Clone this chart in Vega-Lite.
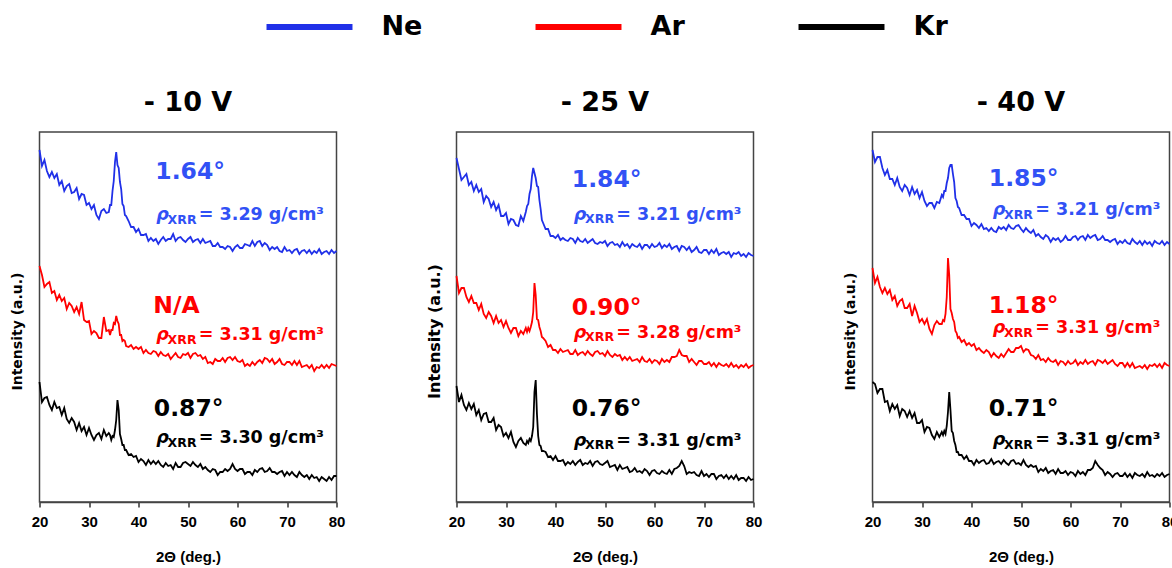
{
"$schema":"https://vega.github.io/schema/vega-lite/v6.json",
"padding":{"left":9.5,"top":13,"right":2,"bottom":2},
"background":"white",
"datasets":{
"p1":[
{"x":20,"Ne":352,"Ar":236,"Kr":120},{"x":20.5,"Ne":336,"Ar":227,"Kr":100},{"x":21,"Ne":342,"Ar":215,"Kr":104},{"x":21.5,"Ne":331,"Ar":218,"Kr":105},{"x":22,"Ne":325,"Ar":220,"Kr":97},{"x":22.5,"Ne":330,"Ar":209,"Kr":92},{"x":23,"Ne":324,"Ar":211,"Kr":100},{"x":23.5,"Ne":328,"Ar":202,"Kr":94},{"x":24,"Ne":317,"Ar":207,"Kr":95},{"x":24.5,"Ne":321,"Ar":201,"Kr":87},{"x":25,"Ne":311,"Ar":204,"Kr":94},{"x":25.5,"Ne":316,"Ar":193,"Kr":83},{"x":26,"Ne":318,"Ar":199,"Kr":79},{"x":26.5,"Ne":309,"Ar":196,"Kr":84},{"x":27,"Ne":310,"Ar":190,"Kr":80},{"x":27.5,"Ne":314,"Ar":195,"Kr":72},{"x":28,"Ne":303,"Ar":188,"Kr":79},{"x":28.5,"Ne":308,"Ar":200,"Kr":71},{"x":29,"Ne":307,"Ar":182,"Kr":75},{"x":29.5,"Ne":297,"Ar":180,"Kr":67},{"x":30,"Ne":299,"Ar":181,"Kr":74},{"x":30.5,"Ne":293,"Ar":168,"Kr":67},{"x":31,"Ne":297,"Ar":171,"Kr":62},{"x":31.5,"Ne":287,"Ar":169,"Kr":67},{"x":32,"Ne":283,"Ar":164,"Kr":69},{"x":32.5,"Ne":291,"Ar":164,"Kr":63},{"x":33,"Ne":293,"Ar":185,"Kr":72},{"x":33.5,"Ne":289,"Ar":171,"Kr":66},{"x":34,"Ne":290,"Ar":172,"Kr":69},
{"x":34.25,"Ne":297,"Ar":167,"Kr":67},{"x":34.5,"Ne":297,"Ar":172,"Kr":62},{"x":34.75,"Ne":311,"Ar":172,"Kr":66},{"x":35,"Ne":321,"Ar":179,"Kr":65},{"x":35.25,"Ne":340,"Ar":178,"Kr":72},{"x":35.5,"Ne":350,"Ar":186,"Kr":82},{"x":35.75,"Ne":337,"Ar":181,"Kr":102},{"x":36,"Ne":334,"Ar":178,"Kr":92},{"x":36.25,"Ne":320,"Ar":167,"Kr":68},{"x":36.5,"Ne":313,"Ar":167,"Kr":63},{"x":36.75,"Ne":298,"Ar":161,"Kr":57},{"x":37,"Ne":296,"Ar":162,"Kr":57},{"x":37.25,"Ne":287,"Ar":161,"Kr":52},{"x":37.5,"Ne":286,"Ar":156,"Kr":52},
{"x":38,"Ne":281,"Ar":155,"Kr":47},{"x":38.5,"Ne":275,"Ar":157,"Kr":48},{"x":39,"Ne":275,"Ar":153,"Kr":45},{"x":39.5,"Ne":270,"Ar":155,"Kr":46},{"x":40,"Ne":273,"Ar":153,"Kr":40},{"x":40.5,"Ne":267,"Ar":155,"Kr":43},{"x":41,"Ne":267,"Ar":149,"Kr":41},{"x":41.5,"Ne":268,"Ar":152,"Kr":37},{"x":42,"Ne":261,"Ar":149,"Kr":42},{"x":42.5,"Ne":264,"Ar":148,"Kr":38},{"x":43,"Ne":261,"Ar":151,"Kr":41},{"x":43.5,"Ne":263,"Ar":150,"Kr":38},{"x":44,"Ne":258,"Ar":146,"Kr":41},{"x":44.5,"Ne":262,"Ar":150,"Kr":37},{"x":45,"Ne":265,"Ar":147,"Kr":35},{"x":45.5,"Ne":261,"Ar":146,"Kr":39},{"x":46,"Ne":263,"Ar":148,"Kr":36},{"x":46.5,"Ne":263,"Ar":143,"Kr":37},{"x":47,"Ne":268,"Ar":146,"Kr":33},{"x":47.5,"Ne":261,"Ar":149,"Kr":39},{"x":48,"Ne":264,"Ar":145,"Kr":35},{"x":48.5,"Ne":265,"Ar":144,"Kr":35},{"x":49,"Ne":262,"Ar":148,"Kr":39},{"x":49.5,"Ne":260,"Ar":147,"Kr":40},{"x":50,"Ne":263,"Ar":149,"Kr":38},{"x":50.5,"Ne":265,"Ar":144,"Kr":36},{"x":51,"Ne":260,"Ar":148,"Kr":40},{"x":51.5,"Ne":262,"Ar":149,"Kr":37},{"x":52,"Ne":263,"Ar":146,"Kr":35},{"x":52.5,"Ne":259,"Ar":147,"Kr":38},{"x":53,"Ne":263,"Ar":143,"Kr":33},{"x":53.5,"Ne":259,"Ar":145,"Kr":35},{"x":54,"Ne":260,"Ar":139,"Kr":32},{"x":54.5,"Ne":261,"Ar":140,"Kr":30},{"x":55,"Ne":256,"Ar":138,"Kr":33},{"x":55.5,"Ne":256,"Ar":143,"Kr":32},{"x":56,"Ne":259,"Ar":141,"Kr":27},{"x":56.5,"Ne":255,"Ar":141,"Kr":30},{"x":57,"Ne":255,"Ar":144,"Kr":30},{"x":57.5,"Ne":253,"Ar":140,"Kr":33},{"x":58,"Ne":256,"Ar":144,"Kr":31},{"x":58.5,"Ne":255,"Ar":145,"Kr":33},{"x":59,"Ne":251,"Ar":142,"Kr":38},{"x":59.5,"Ne":255,"Ar":145,"Kr":33},{"x":60,"Ne":257,"Ar":141,"Kr":31},{"x":60.5,"Ne":254,"Ar":140,"Kr":33},{"x":61,"Ne":254,"Ar":142,"Kr":33},{"x":61.5,"Ne":258,"Ar":136,"Kr":28},{"x":62,"Ne":257,"Ar":138,"Kr":30},{"x":62.5,"Ne":256,"Ar":136,"Kr":30},{"x":63,"Ne":261,"Ar":140,"Kr":27},{"x":63.5,"Ne":256,"Ar":137,"Kr":32},{"x":64,"Ne":260,"Ar":140,"Kr":30},{"x":64.5,"Ne":261,"Ar":142,"Kr":33},{"x":65,"Ne":256,"Ar":139,"Kr":34},{"x":65.5,"Ne":259,"Ar":144,"Kr":30},{"x":66,"Ne":257,"Ar":143,"Kr":31},{"x":66.5,"Ne":252,"Ar":140,"Kr":34},{"x":67,"Ne":255,"Ar":143,"Kr":30},{"x":67.5,"Ne":253,"Ar":138,"Kr":30},{"x":68,"Ne":255,"Ar":140,"Kr":28},{"x":68.5,"Ne":251,"Ar":143,"Kr":30},{"x":69,"Ne":250,"Ar":138,"Kr":31},{"x":69.5,"Ne":255,"Ar":137,"Kr":26},{"x":70,"Ne":251,"Ar":140,"Kr":30},{"x":70.5,"Ne":252,"Ar":140,"Kr":27},{"x":71,"Ne":249,"Ar":137,"Kr":30},{"x":71.5,"Ne":252,"Ar":141,"Kr":27},{"x":72,"Ne":253,"Ar":137,"Kr":25},{"x":72.5,"Ne":248,"Ar":141,"Kr":30},{"x":73,"Ne":251,"Ar":135,"Kr":27},{"x":73.5,"Ne":252,"Ar":136,"Kr":25},{"x":74,"Ne":249,"Ar":137,"Kr":27},{"x":74.5,"Ne":252,"Ar":134,"Kr":23},{"x":75,"Ne":248,"Ar":137,"Kr":27},{"x":75.5,"Ne":251,"Ar":131,"Kr":24},{"x":76,"Ne":249,"Ar":135,"Kr":25},{"x":76.5,"Ne":253,"Ar":134,"Kr":21},{"x":77,"Ne":248,"Ar":137,"Kr":25},{"x":77.5,"Ne":250,"Ar":134,"Kr":23},{"x":78,"Ne":251,"Ar":137,"Kr":21},{"x":78.5,"Ne":248,"Ar":134,"Kr":25},{"x":79,"Ne":252,"Ar":138,"Kr":22},{"x":79.5,"Ne":249,"Ar":137,"Kr":26},{"x":80,"Ne":251,"Ar":136,"Kr":26}
],
"p2":[
{"x":20,"Ne":344,"Ar":226,"Kr":116},{"x":20.5,"Ne":333,"Ar":209,"Kr":100},{"x":21,"Ne":322,"Ar":214,"Kr":107},{"x":21.5,"Ne":325,"Ar":214,"Kr":97},{"x":22,"Ne":328,"Ar":205,"Kr":92},{"x":22.5,"Ne":317,"Ar":200,"Kr":99},{"x":23,"Ne":320,"Ar":206,"Kr":93},{"x":23.5,"Ne":311,"Ar":199,"Kr":98},{"x":24,"Ne":317,"Ar":199,"Kr":87},{"x":24.5,"Ne":310,"Ar":192,"Kr":92},{"x":25,"Ne":313,"Ar":198,"Kr":82},{"x":25.5,"Ne":300,"Ar":188,"Kr":88},{"x":26,"Ne":306,"Ar":184,"Kr":89},{"x":26.5,"Ne":303,"Ar":190,"Kr":80},{"x":27,"Ne":295,"Ar":186,"Kr":80},{"x":27.5,"Ne":300,"Ar":179,"Kr":84},{"x":28,"Ne":292,"Ar":186,"Kr":72},{"x":28.5,"Ne":297,"Ar":179,"Kr":77},{"x":29,"Ne":286,"Ar":182,"Kr":75},{"x":29.5,"Ne":286,"Ar":175,"Kr":66},{"x":30,"Ne":289,"Ar":181,"Kr":69},{"x":30.5,"Ne":278,"Ar":174,"Kr":64},{"x":31,"Ne":283,"Ar":169,"Kr":70},{"x":31.5,"Ne":282,"Ar":174,"Kr":60},{"x":32,"Ne":277,"Ar":174,"Kr":55},{"x":32.5,"Ne":276,"Ar":166,"Kr":61},{"x":33,"Ne":286,"Ar":171,"Kr":64},{"x":33.5,"Ne":281,"Ar":168,"Kr":59},{"x":34,"Ne":290,"Ar":174,"Kr":57},
{"x":34.25,"Ne":296,"Ar":170,"Kr":61},{"x":34.5,"Ne":298,"Ar":174,"Kr":59},{"x":34.75,"Ne":308,"Ar":171,"Kr":63},{"x":35,"Ne":313,"Ar":175,"Kr":61},{"x":35.25,"Ne":326,"Ar":180,"Kr":66},{"x":35.5,"Ne":334,"Ar":190,"Kr":75},{"x":35.75,"Ne":329,"Ar":219,"Kr":110},{"x":36,"Ne":324,"Ar":207,"Kr":122},{"x":36.25,"Ne":316,"Ar":183,"Kr":88},{"x":36.5,"Ne":315,"Ar":182,"Kr":66},{"x":36.75,"Ne":302,"Ar":175,"Kr":57},{"x":37,"Ne":293,"Ar":171,"Kr":56},{"x":37.25,"Ne":282,"Ar":165,"Kr":51},{"x":37.5,"Ne":279,"Ar":164,"Kr":51},
{"x":38,"Ne":273,"Ar":161,"Kr":50},{"x":38.5,"Ne":273,"Ar":155,"Kr":45},{"x":39,"Ne":266,"Ar":157,"Kr":46},{"x":39.5,"Ne":266,"Ar":152,"Kr":42},{"x":40,"Ne":264,"Ar":152,"Kr":46},{"x":40.5,"Ne":267,"Ar":149,"Kr":41},{"x":41,"Ne":262,"Ar":153,"Kr":41},{"x":41.5,"Ne":264,"Ar":150,"Kr":42},{"x":42,"Ne":262,"Ar":151,"Kr":37},{"x":42.5,"Ne":261,"Ar":152,"Kr":40},{"x":43,"Ne":264,"Ar":148,"Kr":38},{"x":43.5,"Ne":263,"Ar":148,"Kr":41},{"x":44,"Ne":259,"Ar":152,"Kr":37},{"x":44.5,"Ne":264,"Ar":147,"Kr":40},{"x":45,"Ne":261,"Ar":149,"Kr":42},{"x":45.5,"Ne":260,"Ar":150,"Kr":37},{"x":46,"Ne":263,"Ar":147,"Kr":39},{"x":46.5,"Ne":259,"Ar":151,"Kr":38},{"x":47,"Ne":261,"Ar":148,"Kr":41},{"x":47.5,"Ne":263,"Ar":146,"Kr":36},{"x":48,"Ne":259,"Ar":150,"Kr":40},{"x":48.5,"Ne":258,"Ar":151,"Kr":41},{"x":49,"Ne":260,"Ar":148,"Kr":38},{"x":49.5,"Ne":259,"Ar":149,"Kr":37},{"x":50,"Ne":261,"Ar":146,"Kr":39},{"x":50.5,"Ne":256,"Ar":151,"Kr":41},{"x":51,"Ne":259,"Ar":147,"Kr":35},{"x":51.5,"Ne":260,"Ar":145,"Kr":36},{"x":52,"Ne":257,"Ar":148,"Kr":37},{"x":52.5,"Ne":258,"Ar":146,"Kr":32},{"x":53,"Ne":255,"Ar":147,"Kr":37},{"x":53.5,"Ne":260,"Ar":142,"Kr":33},{"x":54,"Ne":256,"Ar":145,"Kr":34},{"x":54.5,"Ne":258,"Ar":142,"Kr":35},{"x":55,"Ne":254,"Ar":145,"Kr":30},{"x":55.5,"Ne":258,"Ar":141,"Kr":31},{"x":56,"Ne":256,"Ar":142,"Kr":34},{"x":56.5,"Ne":255,"Ar":143,"Kr":30},{"x":57,"Ne":258,"Ar":140,"Kr":31},{"x":57.5,"Ne":253,"Ar":145,"Kr":29},{"x":58,"Ne":257,"Ar":141,"Kr":33},{"x":58.5,"Ne":257,"Ar":140,"Kr":31},{"x":59,"Ne":254,"Ar":143,"Kr":27},{"x":59.5,"Ne":258,"Ar":139,"Kr":31},{"x":60,"Ne":255,"Ar":142,"Kr":32},{"x":60.5,"Ne":256,"Ar":141,"Kr":29},{"x":61,"Ne":259,"Ar":138,"Kr":28},{"x":61.5,"Ne":254,"Ar":143,"Kr":31},{"x":62,"Ne":257,"Ar":140,"Kr":29},{"x":62.5,"Ne":255,"Ar":142,"Kr":28},{"x":63,"Ne":258,"Ar":140,"Kr":32},{"x":63.5,"Ne":253,"Ar":145,"Kr":28},{"x":64,"Ne":255,"Ar":145,"Kr":33},{"x":64.5,"Ne":256,"Ar":146,"Kr":34},{"x":65,"Ne":251,"Ar":152,"Kr":36},{"x":65.5,"Ne":256,"Ar":147,"Kr":41},{"x":66,"Ne":255,"Ar":146,"Kr":36},{"x":66.5,"Ne":252,"Ar":146,"Kr":28},{"x":67,"Ne":255,"Ar":140,"Kr":30},{"x":67.5,"Ne":250,"Ar":143,"Kr":29},{"x":68,"Ne":252,"Ar":140,"Kr":30},{"x":68.5,"Ne":255,"Ar":137,"Kr":27},{"x":69,"Ne":250,"Ar":141,"Kr":26},{"x":69.5,"Ne":249,"Ar":141,"Kr":31},{"x":70,"Ne":252,"Ar":138,"Kr":26},{"x":70.5,"Ne":252,"Ar":138,"Kr":28},{"x":71,"Ne":248,"Ar":140,"Kr":25},{"x":71.5,"Ne":252,"Ar":136,"Kr":28},{"x":72,"Ne":249,"Ar":139,"Kr":28},{"x":72.5,"Ne":253,"Ar":135,"Kr":23},{"x":73,"Ne":247,"Ar":139,"Kr":26},{"x":73.5,"Ne":249,"Ar":137,"Kr":27},{"x":74,"Ne":250,"Ar":136,"Kr":24},{"x":74.5,"Ne":248,"Ar":138,"Kr":27},{"x":75,"Ne":250,"Ar":135,"Kr":23},{"x":75.5,"Ne":245,"Ar":139,"Kr":26},{"x":76,"Ne":249,"Ar":135,"Kr":23},{"x":76.5,"Ne":248,"Ar":137,"Kr":27},{"x":77,"Ne":250,"Ar":134,"Kr":22},{"x":77.5,"Ne":246,"Ar":137,"Kr":24},{"x":78,"Ne":248,"Ar":135,"Kr":24},{"x":78.5,"Ne":245,"Ar":138,"Kr":21},{"x":79,"Ne":249,"Ar":134,"Kr":25},{"x":79.5,"Ne":247,"Ar":136,"Kr":22},{"x":80,"Ne":246,"Ar":137,"Kr":23}
],
"p3":[
{"x":20,"Ne":352,"Ar":234,"Kr":120},{"x":20.5,"Ne":340,"Ar":219,"Kr":118},{"x":21,"Ne":345,"Ar":225,"Kr":109},{"x":21.5,"Ne":345,"Ar":215,"Kr":113},{"x":22,"Ne":334,"Ar":209,"Kr":113},{"x":22.5,"Ne":327,"Ar":214,"Kr":100},{"x":23,"Ne":332,"Ar":208,"Kr":101},{"x":23.5,"Ne":323,"Ar":212,"Kr":91},{"x":24,"Ne":323,"Ar":202,"Kr":98},{"x":24.5,"Ne":317,"Ar":206,"Kr":93},{"x":25,"Ne":324,"Ar":196,"Kr":97},{"x":25.5,"Ne":315,"Ar":201,"Kr":86},{"x":26,"Ne":311,"Ar":203,"Kr":93},{"x":26.5,"Ne":317,"Ar":194,"Kr":91},{"x":27,"Ne":314,"Ar":194,"Kr":85},{"x":27.5,"Ne":307,"Ar":198,"Kr":91},{"x":28,"Ne":315,"Ar":186,"Kr":84},{"x":28.5,"Ne":308,"Ar":196,"Kr":89},{"x":29,"Ne":312,"Ar":189,"Kr":79},{"x":29.5,"Ne":304,"Ar":180,"Kr":79},{"x":30,"Ne":310,"Ar":183,"Kr":82},{"x":30.5,"Ne":301,"Ar":178,"Kr":70},{"x":31,"Ne":296,"Ar":183,"Kr":75},{"x":31.5,"Ne":299,"Ar":173,"Kr":74},{"x":32,"Ne":299,"Ar":168,"Kr":67},{"x":32.5,"Ne":294,"Ar":177,"Kr":63},{"x":33,"Ne":300,"Ar":181,"Kr":70},{"x":33.5,"Ne":299,"Ar":178,"Kr":65},{"x":34,"Ne":307,"Ar":178,"Kr":70},
{"x":34.25,"Ne":305,"Ar":182,"Kr":67},{"x":34.5,"Ne":311,"Ar":181,"Kr":71},{"x":34.75,"Ne":311,"Ar":188,"Kr":68},{"x":35,"Ne":319,"Ar":205,"Kr":76},{"x":35.25,"Ne":324,"Ar":244,"Kr":90},{"x":35.5,"Ne":334,"Ar":227,"Kr":110},{"x":35.75,"Ne":337,"Ar":193,"Kr":92},{"x":36,"Ne":337,"Ar":189,"Kr":71},{"x":36.25,"Ne":328,"Ar":183,"Kr":69},{"x":36.5,"Ne":320,"Ar":180,"Kr":61},{"x":36.75,"Ne":304,"Ar":171,"Kr":57},{"x":37,"Ne":301,"Ar":169,"Kr":50},{"x":37.25,"Ne":295,"Ar":164,"Kr":50},{"x":37.5,"Ne":294,"Ar":165,"Kr":47},
{"x":38,"Ne":287,"Ar":160,"Kr":47},{"x":38.5,"Ne":287,"Ar":162,"Kr":43},{"x":39,"Ne":283,"Ar":157,"Kr":46},{"x":39.5,"Ne":283,"Ar":159,"Kr":41},{"x":40,"Ne":276,"Ar":156,"Kr":41},{"x":40.5,"Ne":279,"Ar":158,"Kr":37},{"x":41,"Ne":277,"Ar":152,"Kr":42},{"x":41.5,"Ne":274,"Ar":154,"Kr":39},{"x":42,"Ne":278,"Ar":151,"Kr":41},{"x":42.5,"Ne":273,"Ar":149,"Kr":42},{"x":43,"Ne":274,"Ar":152,"Kr":38},{"x":43.5,"Ne":271,"Ar":150,"Kr":39},{"x":44,"Ne":274,"Ar":145,"Kr":43},{"x":44.5,"Ne":271,"Ar":149,"Kr":38},{"x":45,"Ne":270,"Ar":146,"Kr":40},{"x":45.5,"Ne":275,"Ar":144,"Kr":41},{"x":46,"Ne":273,"Ar":148,"Kr":38},{"x":46.5,"Ne":275,"Ar":145,"Kr":42},{"x":47,"Ne":272,"Ar":149,"Kr":39},{"x":47.5,"Ne":277,"Ar":153,"Kr":37},{"x":48,"Ne":274,"Ar":150,"Kr":41},{"x":48.5,"Ne":273,"Ar":150,"Kr":42},{"x":49,"Ne":276,"Ar":154,"Kr":38},{"x":49.5,"Ne":277,"Ar":154,"Kr":39},{"x":50,"Ne":273,"Ar":156,"Kr":37},{"x":50.5,"Ne":270,"Ar":150,"Kr":42},{"x":51,"Ne":274,"Ar":153,"Kr":37},{"x":51.5,"Ne":271,"Ar":152,"Kr":35},{"x":52,"Ne":269,"Ar":147,"Kr":37},{"x":52.5,"Ne":272,"Ar":146,"Kr":35},{"x":53,"Ne":266,"Ar":143,"Kr":36},{"x":53.5,"Ne":268,"Ar":147,"Kr":30},{"x":54,"Ne":265,"Ar":142,"Kr":33},{"x":54.5,"Ne":263,"Ar":143,"Kr":31},{"x":55,"Ne":267,"Ar":140,"Kr":34},{"x":55.5,"Ne":265,"Ar":144,"Kr":29},{"x":56,"Ne":260,"Ar":141,"Kr":31},{"x":56.5,"Ne":264,"Ar":140,"Kr":32},{"x":57,"Ne":262,"Ar":142,"Kr":28},{"x":57.5,"Ne":264,"Ar":137,"Kr":33},{"x":58,"Ne":260,"Ar":141,"Kr":29},{"x":58.5,"Ne":262,"Ar":140,"Kr":29},{"x":59,"Ne":266,"Ar":137,"Kr":31},{"x":59.5,"Ne":262,"Ar":141,"Kr":27},{"x":60,"Ne":262,"Ar":138,"Kr":30},{"x":60.5,"Ne":265,"Ar":139,"Kr":29},{"x":61,"Ne":266,"Ar":142,"Kr":26},{"x":61.5,"Ne":262,"Ar":137,"Kr":31},{"x":62,"Ne":265,"Ar":140,"Kr":28},{"x":62.5,"Ne":266,"Ar":138,"Kr":30},{"x":63,"Ne":262,"Ar":142,"Kr":27},{"x":63.5,"Ne":267,"Ar":138,"Kr":32},{"x":64,"Ne":264,"Ar":140,"Kr":32},{"x":64.5,"Ne":266,"Ar":141,"Kr":34},{"x":65,"Ne":267,"Ar":137,"Kr":41},{"x":65.5,"Ne":262,"Ar":142,"Kr":37},{"x":66,"Ne":263,"Ar":141,"Kr":34},{"x":66.5,"Ne":266,"Ar":139,"Kr":32},{"x":67,"Ne":262,"Ar":142,"Kr":27},{"x":67.5,"Ne":262,"Ar":138,"Kr":30},{"x":68,"Ne":260,"Ar":140,"Kr":28},{"x":68.5,"Ne":262,"Ar":142,"Kr":25},{"x":69,"Ne":263,"Ar":138,"Kr":28},{"x":69.5,"Ne":258,"Ar":136,"Kr":29},{"x":70,"Ne":261,"Ar":139,"Kr":26},{"x":70.5,"Ne":259,"Ar":139,"Kr":26},{"x":71,"Ne":262,"Ar":135,"Kr":29},{"x":71.5,"Ne":259,"Ar":139,"Kr":25},{"x":72,"Ne":258,"Ar":135,"Kr":28},{"x":72.5,"Ne":263,"Ar":139,"Kr":24},{"x":73,"Ne":260,"Ar":134,"Kr":29},{"x":73.5,"Ne":258,"Ar":135,"Kr":27},{"x":74,"Ne":261,"Ar":136,"Kr":26},{"x":74.5,"Ne":257,"Ar":134,"Kr":28},{"x":75,"Ne":261,"Ar":137,"Kr":25},{"x":75.5,"Ne":258,"Ar":133,"Kr":30},{"x":76,"Ne":260,"Ar":137,"Kr":26},{"x":76.5,"Ne":256,"Ar":136,"Kr":27},{"x":77,"Ne":261,"Ar":138,"Kr":25},{"x":77.5,"Ne":259,"Ar":135,"Kr":28},{"x":78,"Ne":258,"Ar":138,"Kr":26},{"x":78.5,"Ne":261,"Ar":134,"Kr":29},{"x":79,"Ne":257,"Ar":139,"Kr":25},{"x":79.5,"Ne":260,"Ar":137,"Kr":27},{"x":80,"Ne":258,"Ar":136,"Kr":28}
],
"ann":[
{"p":1,"gas":"Ne","tx":43.4,"ty":322.7,"rx":43.6,"ry":281.7,"t":"1.64°","r":"= 3.29 g/cm³"},
{"p":1,"gas":"Ar","tx":43.0,"ty":188.7,"rx":43.6,"ry":161.7,"t":"N/A","r":"= 3.31 g/cm³"},
{"p":1,"gas":"Kr","tx":43.1,"ty":85.7,"rx":43.6,"ry":58.7,"t":"0.87°","r":"= 3.30 g/cm³"},
{"p":2,"gas":"Ne","tx":43.3,"ty":315.3,"rx":43.7,"ry":282.3,"t":"1.84°","r":"= 3.21 g/cm³"},
{"p":2,"gas":"Ar","tx":43.3,"ty":187.3,"rx":43.7,"ry":164.3,"t":"0.90°","r":"= 3.28 g/cm³"},
{"p":2,"gas":"Kr","tx":43.3,"ty":86.3,"rx":43.7,"ry":56.3,"t":"0.76°","r":"= 3.31 g/cm³"},
{"p":3,"gas":"Ne","tx":43.5,"ty":316,"rx":44.3,"ry":287,"t":"1.85°","r":"= 3.21 g/cm³"},
{"p":3,"gas":"Ar","tx":43.5,"ty":189,"rx":44.3,"ry":169,"t":"1.18°","r":"= 3.31 g/cm³"},
{"p":3,"gas":"Kr","tx":43.5,"ty":86,"rx":44.3,"ry":57,"t":"0.71°","r":"= 3.31 g/cm³"}
]
},
"spacing":79,
"hconcat":[
{"width":297,"height":370,"title":"- 10 V",
"layer":[
{"data":{"name":"p1"},"transform":[{"fold":["Ne","Ar","Kr"],"as":["gas","y"]}],"mark":{"type":"line","strokeWidth":1.8},
"encoding":{"x":{"field":"x","type":"quantitative","title":"2Θ (deg.)","scale":{"domain":[20,80],"nice":false,"zero":false}},
"y":{"field":"y","type":"quantitative","title":"Intensity (a.u.)","scale":{"domain":[0,370],"nice":false}},
"color":{"field":"gas","type":"nominal","sort":["Ne","Ar","Kr"],"scale":{"domain":["Ne","Ar","Kr"],"range":["#2030e8","#ff0000","#000000"]},"legend":{"title":null,"orient":"none","legendX":256,"legendY":-119,"direction":"horizontal","symbolType":"M-4,0H4","symbolSize":462,"symbolStrokeWidth":6,"labelFont":"DejaVu Sans","labelFontWeight":"bold","labelFontSize":27,"labelColor":"#000","labelOffset":58,"columnPadding":101}}}},
{"data":{"name":"ann"},"transform":[{"filter":"datum.p==1"}],"mark":{"type":"text","align":"left","baseline":"alphabetic","font":"DejaVu Sans","fontWeight":"bold","fontSize":23.5},
"encoding":{"x":{"field":"tx","type":"quantitative","title":"2Θ (deg.)"},"y":{"field":"ty","type":"quantitative","title":"Intensity (a.u.)"},"text":{"field":"t"},"color":{"condition":[{"test":"datum.gas==='Ne'","value":"#3151f5"},{"test":"datum.gas==='Ar'","value":"#ff0000"}],"value":"#000000"}}},
{"data":{"name":"ann"},"transform":[{"filter":"datum.p==1"}],"mark":{"type":"text","align":"left","baseline":"alphabetic","font":"DejaVu Sans","fontWeight":"bold","fontStyle":"italic","fontSize":17.5,"text":"ρ"},
"encoding":{"x":{"field":"rx","type":"quantitative","title":"2Θ (deg.)"},"y":{"field":"ry","type":"quantitative","title":"Intensity (a.u.)"},"color":{"condition":[{"test":"datum.gas==='Ne'","value":"#3151f5"},{"test":"datum.gas==='Ar'","value":"#ff0000"}],"value":"#000000"}}},
{"data":{"name":"ann"},"transform":[{"filter":"datum.p==1"}],"mark":{"type":"text","align":"left","baseline":"alphabetic","font":"DejaVu Sans","fontWeight":"bold","fontSize":12.5,"text":"XRR","dx":11.3,"dy":3.5},
"encoding":{"x":{"field":"rx","type":"quantitative","title":"2Θ (deg.)"},"y":{"field":"ry","type":"quantitative","title":"Intensity (a.u.)"},"color":{"condition":[{"test":"datum.gas==='Ne'","value":"#3151f5"},{"test":"datum.gas==='Ar'","value":"#ff0000"}],"value":"#000000"}}},
{"data":{"name":"ann"},"transform":[{"filter":"datum.p==1"}],"mark":{"type":"text","align":"left","baseline":"alphabetic","font":"DejaVu Sans","fontWeight":"bold","fontSize":17.5,"dx":42.5},
"encoding":{"x":{"field":"rx","type":"quantitative","title":"2Θ (deg.)"},"y":{"field":"ry","type":"quantitative","title":"Intensity (a.u.)"},"text":{"field":"r"},"color":{"condition":[{"test":"datum.gas==='Ne'","value":"#3151f5"},{"test":"datum.gas==='Ar'","value":"#ff0000"}],"value":"#000000"}}}
]},
{"width":297,"height":370,"title":"- 25 V",
"layer":[
{"data":{"name":"p2"},"transform":[{"fold":["Ne","Ar","Kr"],"as":["gas","y"]}],"mark":{"type":"line","strokeWidth":1.8},
"encoding":{"x":{"field":"x","type":"quantitative","title":"2Θ (deg.)","scale":{"domain":[20,80],"nice":false,"zero":false}},
"y":{"field":"y","type":"quantitative","title":"Intensity (a.u.)","scale":{"domain":[0,370],"nice":false},"axis":{"titleFontSize":16,"titlePadding":14}},
"color":{"field":"gas","type":"nominal","sort":["Ne","Ar","Kr"],"scale":{"domain":["Ne","Ar","Kr"],"range":["#2030e8","#ff0000","#000000"]},"legend":{"title":null,"orient":"none","legendX":256,"legendY":-119,"direction":"horizontal","symbolType":"M-4,0H4","symbolSize":462,"symbolStrokeWidth":6,"labelFont":"DejaVu Sans","labelFontWeight":"bold","labelFontSize":27,"labelColor":"#000","labelOffset":58,"columnPadding":101}}}},
{"data":{"name":"ann"},"transform":[{"filter":"datum.p==2"}],"mark":{"type":"text","align":"left","baseline":"alphabetic","font":"DejaVu Sans","fontWeight":"bold","fontSize":23.5},
"encoding":{"x":{"field":"tx","type":"quantitative","title":"2Θ (deg.)"},"y":{"field":"ty","type":"quantitative","title":"Intensity (a.u.)"},"text":{"field":"t"},"color":{"condition":[{"test":"datum.gas==='Ne'","value":"#3151f5"},{"test":"datum.gas==='Ar'","value":"#ff0000"}],"value":"#000000"}}},
{"data":{"name":"ann"},"transform":[{"filter":"datum.p==2"}],"mark":{"type":"text","align":"left","baseline":"alphabetic","font":"DejaVu Sans","fontWeight":"bold","fontStyle":"italic","fontSize":17.5,"text":"ρ"},
"encoding":{"x":{"field":"rx","type":"quantitative","title":"2Θ (deg.)"},"y":{"field":"ry","type":"quantitative","title":"Intensity (a.u.)"},"color":{"condition":[{"test":"datum.gas==='Ne'","value":"#3151f5"},{"test":"datum.gas==='Ar'","value":"#ff0000"}],"value":"#000000"}}},
{"data":{"name":"ann"},"transform":[{"filter":"datum.p==2"}],"mark":{"type":"text","align":"left","baseline":"alphabetic","font":"DejaVu Sans","fontWeight":"bold","fontSize":12.5,"text":"XRR","dx":11.3,"dy":3.5},
"encoding":{"x":{"field":"rx","type":"quantitative","title":"2Θ (deg.)"},"y":{"field":"ry","type":"quantitative","title":"Intensity (a.u.)"},"color":{"condition":[{"test":"datum.gas==='Ne'","value":"#3151f5"},{"test":"datum.gas==='Ar'","value":"#ff0000"}],"value":"#000000"}}},
{"data":{"name":"ann"},"transform":[{"filter":"datum.p==2"}],"mark":{"type":"text","align":"left","baseline":"alphabetic","font":"DejaVu Sans","fontWeight":"bold","fontSize":17.5,"dx":42.5},
"encoding":{"x":{"field":"rx","type":"quantitative","title":"2Θ (deg.)"},"y":{"field":"ry","type":"quantitative","title":"Intensity (a.u.)"},"text":{"field":"r"},"color":{"condition":[{"test":"datum.gas==='Ne'","value":"#3151f5"},{"test":"datum.gas==='Ar'","value":"#ff0000"}],"value":"#000000"}}}
]},
{"width":297,"height":370,"title":"- 40 V",
"layer":[
{"data":{"name":"p3"},"transform":[{"fold":["Ne","Ar","Kr"],"as":["gas","y"]}],"mark":{"type":"line","strokeWidth":1.8},
"encoding":{"x":{"field":"x","type":"quantitative","title":"2Θ (deg.)","scale":{"domain":[20,80],"nice":false,"zero":false}},
"y":{"field":"y","type":"quantitative","title":"Intensity (a.u.)","scale":{"domain":[0,370],"nice":false}},
"color":{"field":"gas","type":"nominal","sort":["Ne","Ar","Kr"],"scale":{"domain":["Ne","Ar","Kr"],"range":["#2030e8","#ff0000","#000000"]},"legend":{"title":null,"orient":"none","legendX":256,"legendY":-119,"direction":"horizontal","symbolType":"M-4,0H4","symbolSize":462,"symbolStrokeWidth":6,"labelFont":"DejaVu Sans","labelFontWeight":"bold","labelFontSize":27,"labelColor":"#000","labelOffset":58,"columnPadding":101}}}},
{"data":{"name":"ann"},"transform":[{"filter":"datum.p==3"}],"mark":{"type":"text","align":"left","baseline":"alphabetic","font":"DejaVu Sans","fontWeight":"bold","fontSize":23.5},
"encoding":{"x":{"field":"tx","type":"quantitative","title":"2Θ (deg.)"},"y":{"field":"ty","type":"quantitative","title":"Intensity (a.u.)"},"text":{"field":"t"},"color":{"condition":[{"test":"datum.gas==='Ne'","value":"#3151f5"},{"test":"datum.gas==='Ar'","value":"#ff0000"}],"value":"#000000"}}},
{"data":{"name":"ann"},"transform":[{"filter":"datum.p==3"}],"mark":{"type":"text","align":"left","baseline":"alphabetic","font":"DejaVu Sans","fontWeight":"bold","fontStyle":"italic","fontSize":17.5,"text":"ρ"},
"encoding":{"x":{"field":"rx","type":"quantitative","title":"2Θ (deg.)"},"y":{"field":"ry","type":"quantitative","title":"Intensity (a.u.)"},"color":{"condition":[{"test":"datum.gas==='Ne'","value":"#3151f5"},{"test":"datum.gas==='Ar'","value":"#ff0000"}],"value":"#000000"}}},
{"data":{"name":"ann"},"transform":[{"filter":"datum.p==3"}],"mark":{"type":"text","align":"left","baseline":"alphabetic","font":"DejaVu Sans","fontWeight":"bold","fontSize":12.5,"text":"XRR","dx":11.3,"dy":3.5},
"encoding":{"x":{"field":"rx","type":"quantitative","title":"2Θ (deg.)"},"y":{"field":"ry","type":"quantitative","title":"Intensity (a.u.)"},"color":{"condition":[{"test":"datum.gas==='Ne'","value":"#3151f5"},{"test":"datum.gas==='Ar'","value":"#ff0000"}],"value":"#000000"}}},
{"data":{"name":"ann"},"transform":[{"filter":"datum.p==3"}],"mark":{"type":"text","align":"left","baseline":"alphabetic","font":"DejaVu Sans","fontWeight":"bold","fontSize":17.5,"dx":42.5},
"encoding":{"x":{"field":"rx","type":"quantitative","title":"2Θ (deg.)"},"y":{"field":"ry","type":"quantitative","title":"Intensity (a.u.)"},"text":{"field":"r"},"color":{"condition":[{"test":"datum.gas==='Ne'","value":"#3151f5"},{"test":"datum.gas==='Ar'","value":"#ff0000"}],"value":"#000000"}}}
]}
],
"config":{
"view":{"stroke":"#444444","strokeWidth":1.5},
"title":{"font":"DejaVu Sans","fontWeight":"bold","fontSize":27,"color":"#000000","baseline":"alphabetic","offset":15,"anchor":"middle"},
"axisX":{"values":[20,25,30,35,40,45,50,55,60,65,70,75,80],"labelExpr":"datum.value % 10 === 0 ? datum.label : ''","grid":false,"tickSize":5,"tickWidth":1.5,"tickColor":"#333333","domainColor":"#444444","domainWidth":1.5,"labelFont":"Liberation Sans","labelFontWeight":"bold","labelFontSize":15,"labelColor":"#000000","labelPadding":7,"labelFlush":false,"labelOverlap":false,"titleFont":"Liberation Sans","titleFontWeight":"bold","titleFontSize":15,"titleColor":"#000000","titlePadding":20},
"axisY":{"labels":false,"ticks":false,"domain":false,"grid":false,"titleFont":"DejaVu Sans","titleFontWeight":"bold","titleFontSize":14,"titleColor":"#000000","titlePadding":15,"titleY":199}
}
}
